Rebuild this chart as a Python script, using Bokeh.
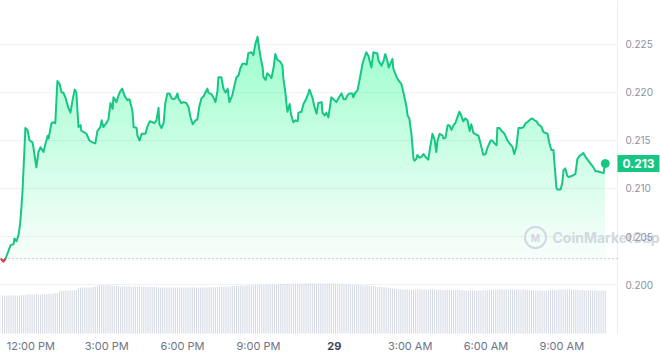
import numpy as np
from bokeh.plotting import figure
from bokeh.models import Range1d
from bokeh.core.properties import value
from bokeh.embed import file_html
from bokeh.resources import INLINE

# minutes after 10:48 AM (28th)
minutes = [
    0, 7, 12, 19, 24, 31, 33, 38, 43, 47,
    52, 57, 59, 64, 69, 76, 78, 85, 90, 95,
    102, 107, 112, 114, 121, 126, 130, 135, 140, 145,
    149, 154, 161, 166, 171, 176, 180, 185, 190, 192,
    197, 204, 211, 218, 225, 230, 237, 240, 244, 251,
    256, 261, 266, 268, 275, 280, 285, 289, 294, 301,
    306, 313, 316, 323, 325, 330, 335, 339, 344, 349,
    354, 361, 365, 370, 375, 377, 382, 387, 391, 396,
    401, 406, 410, 415, 420, 422, 429, 434, 441, 446,
    451, 456, 463, 467, 472, 477, 482, 486, 491, 493,
    501, 505, 510, 515, 517, 524, 529, 534, 539, 543,
    550, 555, 560, 565, 569, 574, 579, 584, 588, 595,
    600, 605, 610, 612, 617, 622, 624, 629, 633, 638,
    643, 648, 652, 657, 664, 669, 671, 676, 679, 681,
    686, 690, 695, 700, 705, 707, 714, 719, 726, 731,
    733, 740, 745, 750, 754, 762, 764, 769, 773, 778,
    785, 790, 797, 802, 809, 814, 819, 823, 828, 835,
    837, 842, 847, 852, 859, 864, 868, 873, 880, 885,
    890, 894, 897, 904, 909, 913, 918, 921, 925, 930,
    932, 940, 944, 951, 956, 963, 966, 970, 975, 980,
    982, 987, 989, 994, 999, 1004, 1008, 1013, 1015, 1020,
    1025, 1030, 1034, 1037, 1042, 1049, 1051, 1056, 1061, 1065,
    1070, 1075, 1079, 1084, 1089, 1094, 1098, 1103, 1108, 1113,
    1117, 1122, 1129, 1134, 1139, 1144, 1146, 1151, 1155, 1163,
    1167, 1172, 1177, 1179, 1184, 1191, 1196, 1200, 1203, 1208,
    1215, 1219, 1224, 1229, 1236, 1241, 1246, 1250, 1257, 1262,
    1267, 1272, 1276, 1284, 1288, 1293, 1298, 1302, 1307, 1312,
    1314, 1319, 1321, 1329, 1333, 1336, 1340, 1345, 1348, 1355,
    1359, 1364, 1369, 1374, 1381, 1383, 1388, 1393, 1400, 1407,
    1412, 1416, 1424, 1431, 1433, 1435,
]

price = [
    0.2027, 0.2024, 0.2027, 0.2035, 0.2041, 0.2042, 0.2048, 0.2045, 0.2052, 0.2065,
    0.2095, 0.2143, 0.2163, 0.2161, 0.2150, 0.2148, 0.2143, 0.2122, 0.2138, 0.2143,
    0.2138, 0.2147, 0.2155, 0.2152, 0.2168, 0.2169, 0.2168, 0.2212, 0.2209, 0.2200,
    0.2200, 0.2195, 0.2184, 0.2179, 0.2192, 0.2203, 0.2200, 0.2164, 0.2166, 0.2160,
    0.2159, 0.2157, 0.2150, 0.2148, 0.2147, 0.2160, 0.2164, 0.2171, 0.2164, 0.2168,
    0.2172, 0.2189, 0.2183, 0.2195, 0.2190, 0.2197, 0.2202, 0.2204, 0.2197, 0.2192,
    0.2193, 0.2181, 0.2164, 0.2163, 0.2155, 0.2150, 0.2157, 0.2157, 0.2157, 0.2165,
    0.2170, 0.2169, 0.2168, 0.2171, 0.2184, 0.2167, 0.2163, 0.2168, 0.2189, 0.2199,
    0.2199, 0.2194, 0.2193, 0.2194, 0.2199, 0.2194, 0.2189, 0.2190, 0.2189, 0.2185,
    0.2174, 0.2167, 0.2171, 0.2172, 0.2186, 0.2194, 0.2196, 0.2200, 0.2204, 0.2200,
    0.2198, 0.2195, 0.2190, 0.2202, 0.2216, 0.2216, 0.2204, 0.2200, 0.2204, 0.2190,
    0.2197, 0.2207, 0.2216, 0.2218, 0.2225, 0.2230, 0.2230, 0.2229, 0.2241, 0.2242,
    0.2239, 0.2251, 0.2258, 0.2251, 0.2237, 0.2226, 0.2216, 0.2213, 0.2220, 0.2218,
    0.2215, 0.2226, 0.2240, 0.2234, 0.2232, 0.2228, 0.2215, 0.2200, 0.2186, 0.2180,
    0.2188, 0.2176, 0.2169, 0.2171, 0.2170, 0.2179, 0.2180, 0.2188, 0.2194, 0.2200,
    0.2203, 0.2195, 0.2185, 0.2178, 0.2189, 0.2190, 0.2179, 0.2176, 0.2179, 0.2174,
    0.2195, 0.2193, 0.2190, 0.2194, 0.2199, 0.2193, 0.2193, 0.2197, 0.2199, 0.2199,
    0.2195, 0.2200, 0.2202, 0.2213, 0.2230, 0.2237, 0.2242, 0.2238, 0.2226, 0.2242,
    0.2241, 0.2241, 0.2233, 0.2228, 0.2233, 0.2240, 0.2233, 0.2226, 0.2230, 0.2235,
    0.2225, 0.2216, 0.2213, 0.2209, 0.2200, 0.2186, 0.2176, 0.2173, 0.2157, 0.2131,
    0.2129, 0.2131, 0.2135, 0.2132, 0.2133, 0.2136, 0.2133, 0.2131, 0.2130, 0.2144,
    0.2157, 0.2151, 0.2138, 0.2150, 0.2157, 0.2155, 0.2152, 0.2153, 0.2166, 0.2166,
    0.2161, 0.2166, 0.2168, 0.2174, 0.2180, 0.2175, 0.2170, 0.2173, 0.2171, 0.2160,
    0.2167, 0.2158, 0.2156, 0.2155, 0.2147, 0.2138, 0.2135, 0.2136, 0.2142, 0.2150,
    0.2150, 0.2147, 0.2145, 0.2163, 0.2163, 0.2159, 0.2157, 0.2153, 0.2150, 0.2147,
    0.2143, 0.2136, 0.2143, 0.2163, 0.2163, 0.2164, 0.2168, 0.2169, 0.2172, 0.2173,
    0.2171, 0.2170, 0.2167, 0.2164, 0.2159, 0.2158, 0.2157, 0.2148, 0.2140, 0.2140,
    0.2129, 0.2101, 0.2099, 0.2099, 0.2106, 0.2119, 0.2121, 0.2113, 0.2112, 0.2113,
    0.2114, 0.2115, 0.2131, 0.2134, 0.2136, 0.2137, 0.2133, 0.2130, 0.2126, 0.2122,
    0.2118, 0.2118, 0.2117, 0.2116, 0.2122, 0.2126,
]

# volume per 5-minute bar (millions)
volume = [
    45.6, 45.4, 45.7, 45.5, 45.6, 45.8, 45.6, 45.5, 45.7, 45.6, 45.9, 46.0,
    46.6, 46.8, 46.9, 46.7, 46.8, 47.0, 46.9, 46.8, 47.1, 47.0, 47.2, 47.4,
    47.8, 48.1, 48.3, 48.6,
    50.8, 51.4, 51.6, 51.7, 51.6, 51.8, 52.0, 52.1, 52.3,
    54.6, 55.0, 55.2, 55.3, 55.2, 55.4, 55.6, 56.0, 56.5,
    57.8, 58.0, 58.2, 58.3, 58.2, 58.1, 58.0, 57.8, 57.4,
    57.0, 56.8, 56.6, 56.5, 56.4, 56.5, 56.6, 56.4, 56.3, 56.4,
    56.5, 56.4, 56.3, 56.2, 56.3, 56.2, 56.0, 55.9, 55.8, 55.6,
    55.4, 55.3, 55.2, 55.2, 55.3, 55.4, 55.2, 55.1, 55.2, 55.3,
    55.2, 55.2, 55.1, 55.2, 55.3, 55.4, 55.5, 55.3, 55.2, 55.1,
    55.2, 55.3, 55.2, 55.4, 55.5, 55.6, 55.5, 55.6, 55.8, 55.9,
    56.0, 56.2, 56.4, 56.5, 56.6, 56.8, 57.0, 57.2, 57.4,
    57.5, 57.6, 57.7, 57.8, 58.0, 58.2,
    58.5, 58.6, 58.7, 58.8, 58.8, 58.9, 58.8, 58.8, 58.9, 59.0,
    58.9, 59.0, 59.1, 59.2, 59.3, 59.4,
    59.6, 59.8, 59.9, 60.0, 60.0, 60.1, 60.0, 59.9, 60.0, 60.1,
    60.2, 60.1, 60.0, 60.0, 60.1, 60.2, 60.1, 60.0, 59.9, 60.0,
    60.1, 60.0, 60.0, 59.9, 59.8, 59.8, 59.7, 59.6, 59.4,
    59.0, 58.8, 58.6, 58.4, 58.3, 58.2, 58.1, 58.0, 57.8, 57.6, 57.4,
    57.0, 56.7, 56.5, 56.3, 56.1, 55.9,
    55.6, 55.3, 55.0,
    54.4, 54.0, 53.7, 53.5, 53.3, 53.2, 53.1, 53.0,
    52.8, 52.7, 52.8, 52.9, 52.8, 53.0, 53.2, 53.0, 52.8, 52.7,
    52.6, 52.8, 52.9, 52.8, 52.7, 52.6,
    52.5, 52.4, 52.6, 52.4, 52.3, 52.4, 52.5, 52.3, 52.2, 52.3, 52.1, 52.0,
    51.8, 51.6, 51.5, 51.6, 51.4, 51.5, 51.6, 51.7, 51.6, 51.8, 52.0,
    52.4, 52.6, 52.8, 52.9, 52.8, 53.0, 52.8, 52.7, 52.8, 52.9,
    52.8, 52.7, 52.6, 52.8, 52.9, 53.0, 52.8, 52.6, 52.4, 52.2, 52.0,
    51.8, 51.6, 51.5, 51.6, 51.4, 51.5, 51.6, 51.8, 52.0, 52.2, 52.4, 52.6, 52.8,
    52.9, 53.0, 52.8, 52.7, 52.8, 52.9, 52.8, 52.6, 52.5, 52.4, 52.2, 52.0, 51.8,
    51.7, 51.6, 51.5, 51.6, 51.4, 51.5, 51.6, 51.5, 51.4,
]

x_ticks = [72, 252, 432, 612, 792, 972, 1152, 1332]
x_labels = ["12:00 PM", "3:00 PM", "6:00 PM", "9:00 PM", "29", "3:00 AM", "6:00 AM", "9:00 AM"]
y_ticks = [0.200, 0.205, 0.210, 0.215, 0.220, 0.225]
watermark = "CoinMarketCap"

GREEN = "#16c784"
RED = "#ea3943"
FONT = value("Inter")

# ---- layout (plot area is 617 x 333 px inside a 660 x 356 canvas) ----
W, H = 660, 356
AREA_W, AREA_H = 617, 333
X_END = 1464.0                       # minutes at the right edge of the plot area
Y_TOP, Y_AREA_BOT = 0.229583, 0.194896
MIN_PER_PX = X_END / AREA_W
VAL_PER_PX = (Y_TOP - Y_AREA_BOT) / AREA_H
X_CANVAS_END = W * MIN_PER_PX
Y_CANVAS_BOT = Y_TOP - H * VAL_PER_PX
VOL_TOP = 400.0
VOL_BOT = -VOL_TOP * (H - AREA_H) / AREA_H

t = np.array(minutes, dtype=float)
pr = np.array(price)
open_price = pr[0]
vol_t = np.arange(len(volume)) * 5.0

p = figure(width=W, height=H, output_backend="svg", toolbar_location=None,
           x_range=Range1d(0, X_CANVAS_END), y_range=Range1d(Y_CANVAS_BOT, Y_TOP),
           x_axis_type=None, y_axis_type=None,
           min_border=0, outline_line_color=None,
           background_fill_color="white", border_fill_color="white")
p.grid.visible = False
p.extra_y_ranges = {"vol": Range1d(VOL_BOT, VOL_TOP)}

# horizontal grid lines (stop at the price-axis line)
p.segment(x0=[0] * len(y_ticks), x1=[X_END] * len(y_ticks), y0=y_ticks, y1=y_ticks,
          line_color="#eff2f5", line_width=1)
# price-axis line
p.segment(x0=[X_END], x1=[X_END], y0=[Y_AREA_BOT], y1=[Y_TOP], line_color="#e9ecf1", line_width=1)

# volume bars
p.vbar(x=vol_t, top=volume, bottom=0, width=2.4, y_range_name="vol",
       fill_color="#d3d8e4", line_color=None)

# gradient-like area fill (stacked translucent layers)
levels = np.arange(open_price, pr.max(), 0.0005)
p.varea(x=t, y1=np.full_like(pr, open_price), y2=np.maximum(pr, open_price),
        fill_color=GREEN, fill_alpha=0.025)
for L in levels:
    p.varea(x=t, y1=np.full_like(pr, L), y2=np.maximum(pr, L),
            fill_color=GREEN, fill_alpha=0.0066)

# opening price dotted line
p.segment(x0=[0], x1=[X_END], y0=[open_price], y1=[open_price], line_color="#9aa3b5",
          line_dash="1 3", line_width=1)

# price line
p.line(t, pr, line_color=GREEN, line_width=2, line_join="round")
first_up = next(i for i in range(1, len(pr)) if pr[i] >= open_price)
p.line(t[:first_up + 1], pr[:first_up + 1], line_color=RED, line_width=2, line_join="round")

# last point
p.scatter([t[-1]], [pr[-1]], size=8, marker="circle", fill_color=GREEN, line_color=GREEN)

# watermark (drawn beneath the tick labels)
wm_x, wm_y = 535 * MIN_PER_PX, Y_TOP - 237 * VAL_PER_PX
p.scatter([wm_x], [wm_y], size=21, marker="circle", fill_color=None,
          line_color="#d3d7e0", line_width=2)
p.text(x=[wm_x], y=[wm_y], text=["M"], text_align="center", text_baseline="middle",
       text_font=FONT, text_font_size="10px", text_font_style="bold", text_color="#d3d7e0")
p.text(x=[wm_x + 17 * MIN_PER_PX], y=[wm_y], text=[watermark], text_align="left",
       text_baseline="middle", text_font=FONT, text_font_size="14px", text_font_style="bold",
       text_color="#d3d7e0")

# y tick labels
p.text(x=[X_END] * len(y_ticks), y=y_ticks, text=[f"{v:.3f}" for v in y_ticks],
       x_offset=8, text_align="left", text_baseline="middle",
       text_font=FONT, text_font_size="10px", text_color="#8a92a4")

# x tick labels
reg = [(tk, lb) for tk, lb in zip(x_ticks, x_labels) if lb != "29"]
day = [(tk, lb) for tk, lb in zip(x_ticks, x_labels) if lb == "29"]
p.text(x=[a for a, _ in reg], y=[Y_AREA_BOT] * len(reg), text=[b for _, b in reg],
       y_offset=12, text_align="center", text_baseline="middle",
       text_font=FONT, text_font_size="11px", text_color="#6b7488")
p.text(x=[a for a, _ in day], y=[Y_AREA_BOT] * len(day), text=[b for _, b in day],
       y_offset=12, text_align="center", text_baseline="middle",
       text_font=FONT, text_font_size="11px", text_font_style="bold", text_color="#3d4554")

# current price tag
tag_x = X_END + 21 * MIN_PER_PX
p.rect(x=[tag_x], y=[pr[-1]], width=42, height=17, width_units="screen", height_units="screen",
       fill_color=GREEN, line_color=None)
p.text(x=[tag_x], y=[pr[-1]], text=[f"{pr[-1]:.3f}"], text_align="center", text_baseline="middle",
       text_font=FONT, text_font_size="12px", text_font_style="bold", text_color="white")

open("out.html", "w").write(file_html(p, INLINE))
